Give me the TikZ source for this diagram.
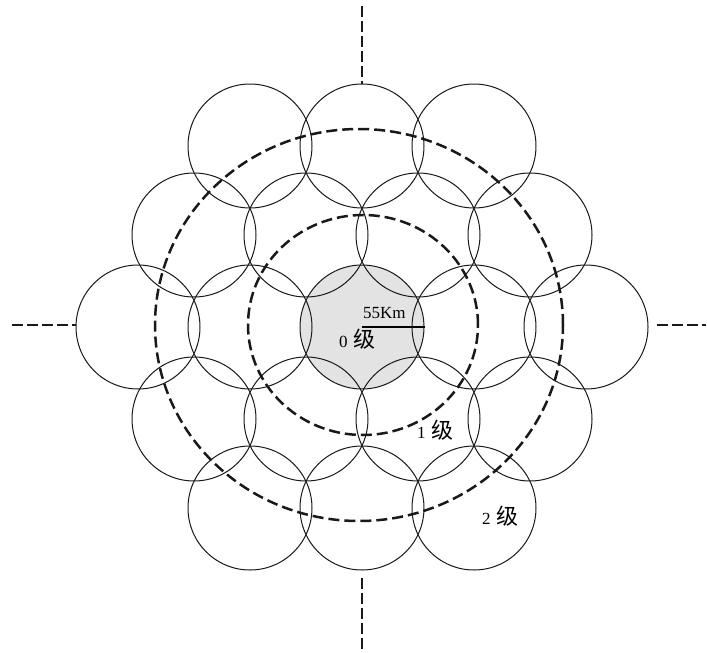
\documentclass[tikz,border=0pt]{standalone}
\usepackage{fontspec}
\setmainfont{Liberation Serif}
\newfontfamily\cjk{Noto Sans CJK SC}
\begin{document}
\begin{tikzpicture}[x=1pt,y=-1pt,
  cell/.style={circle,draw=black!90,line width=1pt,minimum size=124pt,inner sep=0pt},
  zone/.style={draw=black!90,line width=2.5pt,dash pattern=on 11pt off 5pt},
  axisline/.style={draw=black!90,line width=2.8pt,dash pattern=on 11pt off 4pt},
  lbl/.style={anchor=base west,inner sep=0pt,font=\fontsize{17}{17}\selectfont}]
\useasboundingbox (0,0) rectangle (707,653);
% central filled cell
\fill[gray!22] (362,327) circle[radius=62pt];
% cells
\foreach \x/\y/\n in {250/146/a1,362/146/a2,474/146/a3,
  194/235/b1,306/235/b2,418/235/b3,530/235/b4,
  138/327/c1,250/327/c2,362/327/c0,474/327/c4,586/327/c5,
  194/419/d1,306/419/d2,418/419/d3,530/419/d4,
  250/508/e1,362/508/e2,474/508/e3}
  \node[cell] (\n) at (\x,\y) {};
% zone boundaries
\draw[zone] (363,325) ellipse[x radius=115pt,y radius=110pt];
\draw[zone] (359,325) ellipse[x radius=204pt,y radius=196pt];
% axes
\coordinate (tl) at (12,325);
\coordinate (tr) at (706,325);
\coordinate (tt) at (362,6);
\coordinate (tb) at (362,652);
\draw[axisline] (tl) -- (tl -| c1.west);
\draw[axisline] (tr -| c5.east) ++(8,0) -- (tr);
\draw[axisline] (tt) -- (a2.north);
\draw[axisline] (e2.south) ++(0,7) -- (tb);
% radius
\draw[line width=2.2pt] (c0.center) -- (c0.east);
\node[lbl] (r) at (363,318) {55Km};
\node[lbl] (l0) at (339,347) {0\hspace{6pt}{\cjk\fontsize{22}{22}\selectfont 级}};
\node[lbl] (l1) at (417,438) {1\hspace{6pt}{\cjk\fontsize{22}{22}\selectfont 级}};
\node[lbl] (l2) at (482,524) {2\hspace{6pt}{\cjk\fontsize{22}{22}\selectfont 级}};
\end{tikzpicture}
\end{document}
